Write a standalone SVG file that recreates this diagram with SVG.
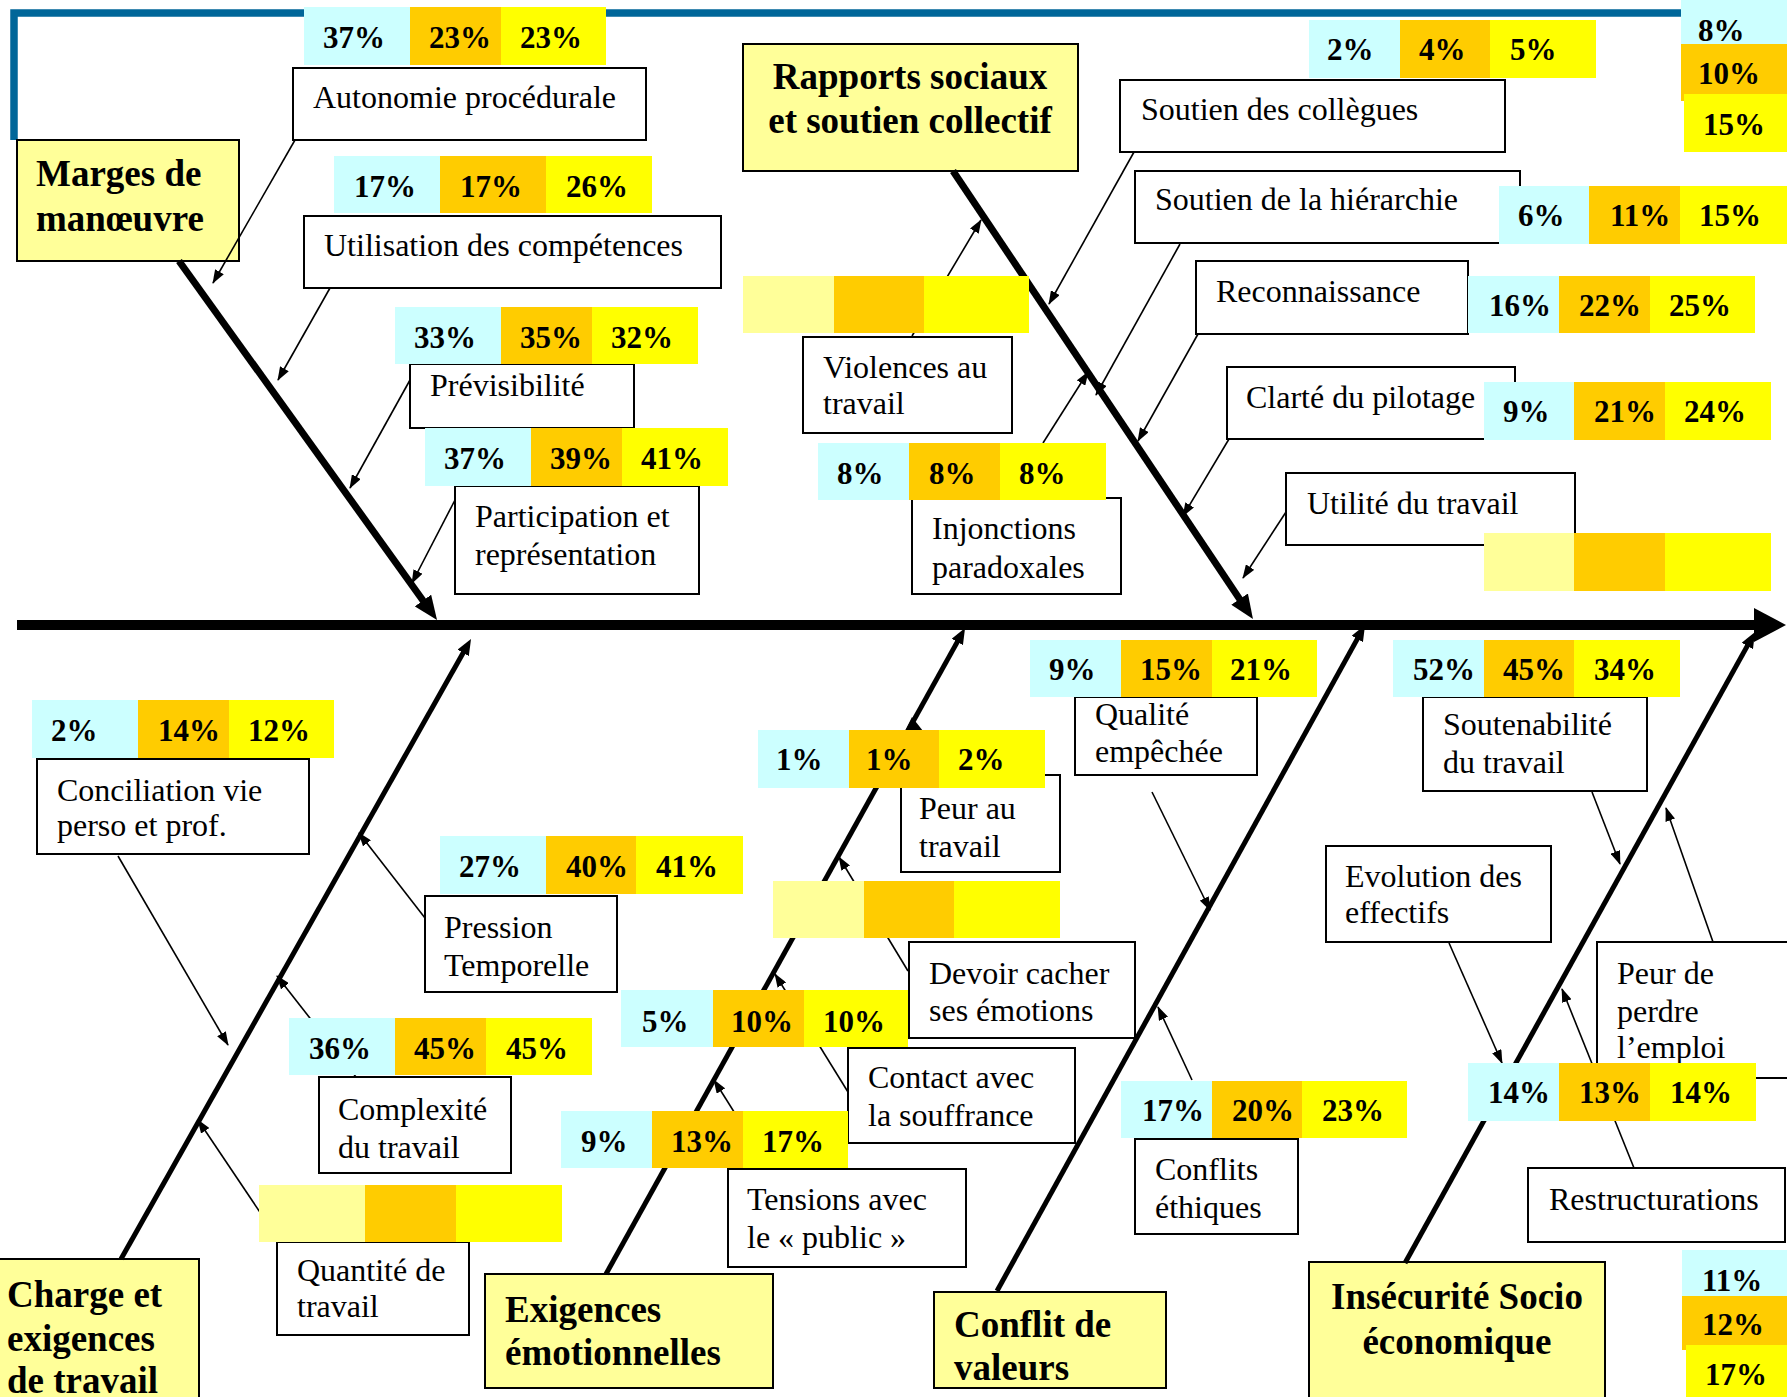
<svg xmlns="http://www.w3.org/2000/svg" width="1787" height="1397" viewBox="0 0 1787 1397">
<style>
.box{fill:#fff;stroke:#000;stroke-width:2}
.cat{fill:#FFFF99;stroke:#000;stroke-width:2}
.t{font-family:"Liberation Serif","Times New Roman",serif;font-size:32px;fill:#000}
.ct{font-family:"Liberation Serif","Times New Roman",serif;font-size:37px;font-weight:bold;fill:#000}
.p{font-family:"Liberation Serif","Times New Roman",serif;font-size:31px;font-weight:bold;fill:#000}
.c1{fill:#CCFFFF}.c2{fill:#FFCC00}.c3{fill:#FFFF00}.c0{fill:#FFFF99}
.br{stroke:#000;stroke-width:1.6;fill:none;marker-end:url(#ah)}
.s1{stroke:#000;stroke-width:7;fill:none;marker-end:url(#hb)}
.s2{stroke:#000;stroke-width:5;fill:none;marker-end:url(#hs)}
</style>
<defs>
<marker id="ah" viewBox="0 0 14 10" markerWidth="14" markerHeight="10" refX="13" refY="5" orient="auto" markerUnits="userSpaceOnUse"><path d="M0,0 L14,5 L0,10 z" fill="#000"/></marker>
<marker id="hb" viewBox="0 0 24 20" markerWidth="24" markerHeight="20" refX="7" refY="10" orient="auto" markerUnits="userSpaceOnUse"><path d="M0,0 L24,10 L0,20 z" fill="#000"/></marker>
<marker id="hs" viewBox="0 0 16 13" markerWidth="16" markerHeight="13" refX="5" refY="6.5" orient="auto" markerUnits="userSpaceOnUse"><path d="M0,0 L16,6.5 L0,13 z" fill="#000"/></marker>
</defs>
<rect width="1787" height="1397" fill="#fff"/>
<path d="M14,140 V13 H1681" fill="none" stroke="#006699" stroke-width="7.5"/>

<!-- category nodes -->
<g id="marges">
<rect class="cat" x="17" y="140" width="222" height="121"/>
<text class="ct" x="36" y="186">Marges de</text>
<text class="ct" x="36" y="231">manœuvre</text>
</g>
<g id="rapports">
<rect class="cat" x="743" y="44" width="335" height="127"/>
<text class="ct" x="910" y="89" text-anchor="middle">Rapports sociaux</text>
<text class="ct" x="910" y="133" text-anchor="middle">et soutien collectif</text>
</g>
<g id="charge">
<rect class="cat" x="-2" y="1259" width="201" height="145"/>
<text class="ct" x="7" y="1307">Charge et</text>
<text class="ct" x="7" y="1351">exigences</text>
<text class="ct" x="7" y="1393">de travail</text>
</g>
<g id="exigences">
<rect class="cat" x="485" y="1274" width="288" height="114"/>
<text class="ct" x="505" y="1322">Exigences</text>
<text class="ct" x="505" y="1365">émotionnelles</text>
</g>
<g id="conflit">
<rect class="cat" x="934" y="1292" width="232" height="96"/>
<text class="ct" x="954" y="1337">Conflit de</text>
<text class="ct" x="954" y="1380">valeurs</text>
</g>
<g id="insecurite">
<rect class="cat" x="1309" y="1262" width="296" height="140"/>
<text class="ct" x="1457" y="1309" text-anchor="middle">Insécurité Socio</text>
<text class="ct" x="1457" y="1354" text-anchor="middle">économique</text>
</g>

<!-- connectors -->
<g id="connectors">
<line x1="17" y1="625" x2="1756" y2="625" stroke="#000" stroke-width="10"/>
<polygon points="1754,608 1786,625 1754,642" fill="#000"/>
<line class="s1" x1="179" y1="261" x2="427.1" y2="606.2"/>
<line class="s1" x1="953" y1="171" x2="1243.5" y2="604.9"/>
<line class="s2" x1="121" y1="1259" x2="465.6" y2="648.6"/>
<line class="s2" x1="606" y1="1274" x2="959.7" y2="637.6"/>
<line class="s2" x1="997" y1="1291" x2="1359.7" y2="634.6"/>
<line class="s2" x1="1405" y1="1263" x2="1749.7" y2="641.6"/>
<line class="br" x1="295" y1="140" x2="213" y2="283"/>
<line class="br" x1="330" y1="288" x2="278" y2="380"/>
<line class="br" x1="410" y1="380" x2="350" y2="488"/>
<line class="br" x1="455" y1="500" x2="412" y2="583"/>
<line class="br" x1="1134" y1="152" x2="1049" y2="304"/>
<line class="br" x1="1180" y1="244" x2="1096" y2="395"/>
<line class="br" x1="1198" y1="334" x2="1138" y2="441"/>
<line class="br" x1="1229" y1="439" x2="1183" y2="516"/>
<line class="br" x1="1286" y1="512" x2="1243" y2="578"/>
<line class="br" x1="912" y1="336" x2="981" y2="220"/>
<line class="br" x1="1043" y1="443" x2="1088" y2="372"/>
<line class="br" x1="118" y1="856" x2="228" y2="1045"/>
<line class="br" x1="425" y1="918" x2="359" y2="833"/>
<line class="br" x1="356" y1="1077" x2="277" y2="976"/>
<line class="br" x1="280" y1="1242" x2="198" y2="1120"/>
<polygon points="905,731 912,717 923,731" fill="#000"/>
<line class="br" x1="908" y1="971" x2="839" y2="857"/>
<line class="br" x1="848" y1="1092" x2="775" y2="974"/>
<line class="br" x1="770" y1="1169" x2="714" y2="1080"/>
<line class="br" x1="1152" y1="792" x2="1210" y2="910"/>
<line class="br" x1="1192" y1="1080" x2="1158" y2="1007"/>
<line class="br" x1="1592" y1="792" x2="1620" y2="864"/>
<line class="br" x1="1449" y1="943" x2="1502" y2="1063"/>
<line class="br" x1="1713" y1="942" x2="1666" y2="808"/>
<line class="br" x1="1634" y1="1168" x2="1562" y2="989"/>
</g>

<!-- factor nodes -->
<g id="autonomie">
<rect class="box" x="293" y="68" width="353" height="72"/>
<text class="t" x="313" y="108">Autonomie procédurale</text>
<rect class="c1" x="304" y="7" width="106" height="58"/><rect class="c2" x="410" y="7" width="91" height="58"/><rect class="c3" x="501" y="7" width="105" height="58"/>
<text class="p" x="323" y="48">37%</text><text class="p" x="429" y="48">23%</text><text class="p" x="520" y="48">23%</text>
</g>
<g id="utilisation">
<rect class="box" x="304" y="216" width="417" height="72"/>
<text class="t" x="324" y="256">Utilisation des compétences</text>
<rect class="c1" x="334" y="156" width="106" height="57"/><rect class="c2" x="440" y="156" width="106" height="57"/><rect class="c3" x="546" y="156" width="106" height="57"/>
<text class="p" x="354" y="197">17%</text><text class="p" x="460" y="197">17%</text><text class="p" x="566" y="197">26%</text>
</g>
<g id="previsibilite">
<rect class="box" x="410" y="364" width="224" height="64"/>
<text class="t" x="430" y="396">Prévisibilité</text>
<rect class="c1" x="395" y="307" width="106" height="57"/><rect class="c2" x="501" y="307" width="91" height="57"/><rect class="c3" x="592" y="307" width="106" height="57"/>
<text class="p" x="414" y="348">33%</text><text class="p" x="520" y="348">35%</text><text class="p" x="611" y="348">32%</text>
</g>
<g id="participation">
<rect class="box" x="455" y="486" width="244" height="108"/>
<text class="t" x="475" y="527">Participation et</text>
<text class="t" x="475" y="565">représentation</text>
<rect class="c1" x="425" y="428" width="106" height="58"/><rect class="c2" x="531" y="428" width="91" height="58"/><rect class="c3" x="622" y="428" width="106" height="58"/>
<text class="p" x="444" y="469">37%</text><text class="p" x="550" y="469">39%</text><text class="p" x="641" y="469">41%</text>
</g>

<g id="collegues">
<rect class="box" x="1120" y="80" width="385" height="72"/>
<text class="t" x="1141" y="120">Soutien des collègues</text>
<rect class="c1" x="1309" y="20" width="91" height="58"/><rect class="c2" x="1400" y="20" width="90" height="58"/><rect class="c3" x="1490" y="20" width="106" height="58"/>
<text class="p" x="1327" y="60">2%</text><text class="p" x="1419" y="60">4%</text><text class="p" x="1510" y="60">5%</text>
</g>
<g id="stack-top">
<rect class="c1" x="1681" y="0" width="106" height="46"/>
<rect class="c2" x="1681" y="44" width="106" height="57"/>
<rect class="c3" x="1684" y="94" width="103" height="58"/>
<text class="p" x="1698" y="41">8%</text>
<text class="p" x="1698" y="84">10%</text>
<text class="p" x="1703" y="135">15%</text>
</g>
<g id="hierarchie">
<rect class="box" x="1135" y="171" width="385" height="72"/>
<text class="t" x="1155" y="210">Soutien de la hiérarchie</text>
<rect class="c1" x="1499" y="186" width="90" height="58"/><rect class="c2" x="1589" y="186" width="91" height="58"/><rect class="c3" x="1680" y="186" width="107" height="58"/>
<text class="p" x="1518" y="226">6%</text><text class="p" x="1610" y="226">11%</text><text class="p" x="1699" y="226">15%</text>
</g>
<g id="reconnaissance">
<rect class="box" x="1196" y="261" width="272" height="73"/>
<text class="t" x="1216" y="302">Reconnaissance</text>
<rect class="c1" x="1468" y="276" width="91" height="57"/><rect class="c2" x="1559" y="276" width="91" height="57"/><rect class="c3" x="1650" y="276" width="105" height="57"/>
<text class="p" x="1489" y="316">16%</text><text class="p" x="1579" y="316">22%</text><text class="p" x="1669" y="316">25%</text>
</g>
<g id="clarte">
<rect class="box" x="1227" y="367" width="288" height="72"/>
<text class="t" x="1246" y="408">Clarté du pilotage</text>
<rect class="c1" x="1484" y="382" width="90" height="58"/><rect class="c2" x="1574" y="382" width="91" height="58"/><rect class="c3" x="1665" y="382" width="106" height="58"/>
<text class="p" x="1503" y="422">9%</text><text class="p" x="1594" y="422">21%</text><text class="p" x="1684" y="422">24%</text>
</g>
<g id="utilite">
<rect class="box" x="1286" y="473" width="289" height="72"/>
<text class="t" x="1307" y="514">Utilité du travail</text>
<rect class="c0" x="1484" y="533" width="90" height="58"/><rect class="c2" x="1574" y="533" width="91" height="58"/><rect class="c3" x="1665" y="533" width="106" height="58"/>
</g>
<g id="violences">
<rect class="box" x="803" y="337" width="209" height="96"/>
<text class="t" x="823" y="378">Violences au</text>
<text class="t" x="823" y="414">travail</text>
<rect class="c0" x="743" y="276" width="91" height="57"/><rect class="c2" x="834" y="276" width="90" height="57"/><rect class="c3" x="924" y="276" width="105" height="57"/>
</g>
<g id="injonctions">
<rect class="box" x="912" y="498" width="209" height="96"/>
<text class="t" x="932" y="539">Injonctions</text>
<text class="t" x="932" y="578">paradoxales</text>
<rect class="c1" x="818" y="443" width="91" height="57"/><rect class="c2" x="909" y="443" width="91" height="57"/><rect class="c3" x="1000" y="443" width="106" height="57"/>
<text class="p" x="837" y="484">8%</text><text class="p" x="929" y="484">8%</text><text class="p" x="1019" y="484">8%</text>
</g>

<g id="conciliation">
<rect class="box" x="37" y="759" width="272" height="95"/>
<text class="t" x="57" y="801">Conciliation vie</text>
<text class="t" x="57" y="836">perso et prof.</text>
<rect class="c1" x="32" y="700" width="106" height="58"/><rect class="c2" x="138" y="700" width="91" height="58"/><rect class="c3" x="229" y="700" width="105" height="58"/>
<text class="p" x="51" y="741">2%</text><text class="p" x="158" y="741">14%</text><text class="p" x="248" y="741">12%</text>
</g>
<g id="pression">
<rect class="box" x="425" y="896" width="192" height="96"/>
<text class="t" x="444" y="938">Pression</text>
<text class="t" x="444" y="976">Temporelle</text>
<rect class="c1" x="440" y="836" width="106" height="58"/><rect class="c2" x="546" y="836" width="90" height="58"/><rect class="c3" x="636" y="836" width="107" height="58"/>
<text class="p" x="459" y="877">27%</text><text class="p" x="566" y="877">40%</text><text class="p" x="656" y="877">41%</text>
</g>
<g id="complexite">
<rect class="box" x="319" y="1077" width="192" height="96"/>
<text class="t" x="338" y="1120">Complexité</text>
<text class="t" x="338" y="1158">du travail</text>
<rect class="c1" x="289" y="1018" width="106" height="57"/><rect class="c2" x="395" y="1018" width="91" height="57"/><rect class="c3" x="486" y="1018" width="106" height="57"/>
<text class="p" x="309" y="1059">36%</text><text class="p" x="414" y="1059">45%</text><text class="p" x="506" y="1059">45%</text>
</g>
<g id="quantite">
<rect class="box" x="277" y="1242" width="192" height="93"/>
<text class="t" x="297" y="1281">Quantité de</text>
<text class="t" x="297" y="1317">travail</text>
<rect class="c0" x="259" y="1185" width="106" height="57"/><rect class="c2" x="365" y="1185" width="91" height="57"/><rect class="c3" x="456" y="1185" width="106" height="57"/>
</g>

<g id="peur-travail">
<rect class="box" x="901" y="775" width="159" height="97"/>
<text class="t" x="919" y="819">Peur au</text>
<text class="t" x="919" y="857">travail</text>
<rect class="c1" x="758" y="730" width="91" height="58"/><rect class="c2" x="849" y="730" width="90" height="58"/><rect class="c3" x="939" y="730" width="106" height="58"/>
<text class="p" x="776" y="770">1%</text><text class="p" x="866" y="770">1%</text><text class="p" x="958" y="770">2%</text>
</g>
<g id="devoir">
<rect class="box" x="909" y="942" width="226" height="96"/>
<text class="t" x="929" y="984">Devoir cacher</text>
<text class="t" x="929" y="1021">ses émotions</text>
<rect class="c0" x="773" y="881" width="91" height="57"/><rect class="c2" x="864" y="881" width="90" height="57"/><rect class="c3" x="954" y="881" width="106" height="57"/>
</g>
<g id="contact">
<rect class="box" x="848" y="1048" width="227" height="95"/>
<text class="t" x="868" y="1088">Contact avec</text>
<text class="t" x="868" y="1126">la souffrance</text>
<rect class="c1" x="621" y="990" width="92" height="57"/><rect class="c2" x="713" y="990" width="91" height="57"/><rect class="c3" x="804" y="990" width="104" height="57"/>
<text class="p" x="642" y="1032">5%</text><text class="p" x="731" y="1032">10%</text><text class="p" x="823" y="1032">10%</text>
</g>
<g id="tensions">
<rect class="box" x="728" y="1169" width="238" height="98"/>
<text class="t" x="747" y="1210">Tensions avec</text>
<text class="t" x="747" y="1248">le « public »</text>
<rect class="c1" x="561" y="1111" width="91" height="57"/><rect class="c2" x="652" y="1111" width="91" height="57"/><rect class="c3" x="743" y="1111" width="105" height="57"/>
<text class="p" x="581" y="1152">9%</text><text class="p" x="671" y="1152">13%</text><text class="p" x="762" y="1152">17%</text>
</g>

<g id="qualite">
<rect class="box" x="1075" y="697" width="182" height="78"/>
<text class="t" x="1095" y="725">Qualité</text>
<text class="t" x="1095" y="762">empêchée</text>
<rect class="c1" x="1030" y="640" width="91" height="57"/><rect class="c2" x="1121" y="640" width="91" height="57"/><rect class="c3" x="1212" y="640" width="105" height="57"/>
<text class="p" x="1049" y="680">9%</text><text class="p" x="1140" y="680">15%</text><text class="p" x="1230" y="680">21%</text>
</g>
<g id="ethiques">
<rect class="box" x="1135" y="1139" width="163" height="95"/>
<text class="t" x="1155" y="1180">Conflits</text>
<text class="t" x="1155" y="1218">éthiques</text>
<rect class="c1" x="1121" y="1081" width="91" height="57"/><rect class="c2" x="1212" y="1081" width="90" height="57"/><rect class="c3" x="1302" y="1081" width="105" height="57"/>
<text class="p" x="1142" y="1121">17%</text><text class="p" x="1232" y="1121">20%</text><text class="p" x="1322" y="1121">23%</text>
</g>

<g id="soutenabilite">
<rect class="box" x="1423" y="697" width="224" height="94"/>
<text class="t" x="1443" y="735">Soutenabilité</text>
<text class="t" x="1443" y="773">du travail</text>
<rect class="c1" x="1393" y="640" width="91" height="57"/><rect class="c2" x="1484" y="640" width="90" height="57"/><rect class="c3" x="1574" y="640" width="106" height="57"/>
<text class="p" x="1413" y="680">52%</text><text class="p" x="1503" y="680">45%</text><text class="p" x="1594" y="680">34%</text>
</g>
<g id="evolution">
<rect class="box" x="1326" y="846" width="225" height="96"/>
<text class="t" x="1345" y="887">Evolution des</text>
<text class="t" x="1345" y="923">effectifs</text>
</g>
<g id="peur-emploi">
<rect class="box" x="1597" y="942" width="205" height="136"/>
<text class="t" x="1617" y="984">Peur de</text>
<text class="t" x="1617" y="1022">perdre</text>
<text class="t" x="1617" y="1058">l’emploi</text>
</g>
<g id="restructurations">
<rect class="box" x="1528" y="1168" width="257" height="74"/>
<text class="t" x="1549" y="1210">Restructurations</text>
<rect class="c1" x="1468" y="1063" width="91" height="58"/><rect class="c2" x="1559" y="1063" width="91" height="58"/><rect class="c3" x="1650" y="1063" width="106" height="58"/>
<text class="p" x="1488" y="1103">14%</text><text class="p" x="1579" y="1103">13%</text><text class="p" x="1670" y="1103">14%</text>
</g>
<g id="stack-bottom">
<rect class="c1" x="1682" y="1250" width="105" height="46"/>
<rect class="c2" x="1682" y="1296" width="105" height="54"/>
<rect class="c3" x="1686" y="1345" width="101" height="52"/>
<text class="p" x="1702" y="1291">11%</text>
<text class="p" x="1702" y="1335">12%</text>
<text class="p" x="1705" y="1385">17%</text>
</g>
</svg>
